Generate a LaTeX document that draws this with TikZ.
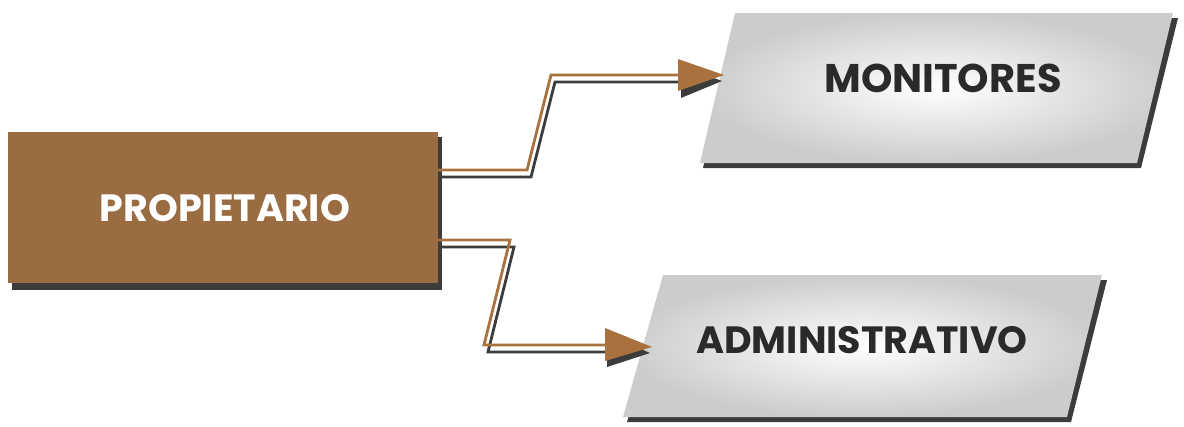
\documentclass[tikz,border=0pt]{standalone}
\usepackage{fontspec}
\setmainfont{Poppins}
\usetikzlibrary{calc}
\definecolor{brownbox}{HTML}{9A6C42}
\definecolor{brownline}{HTML}{A8713E}
\definecolor{shadowgray}{HTML}{3C3C3C}
\definecolor{textdark}{HTML}{2A2A2A}
\tikzset{
  boxshadow/.style={fill=shadowgray},
  graybox/.style={inner color=white, outer color=black!20},
  connline/.style={draw=brownline, line width=2.8pt, line join=miter},
  connshadow/.style={draw=shadowgray, line width=2.8pt, line join=miter},
  lbl/.style={font=\bfseries\fontsize{40}{40}\selectfont, text=textdark},
}
\begin{document}
\begin{tikzpicture}[x=1pt,y=-1pt]
\useasboundingbox (0,0) rectangle (1184,426);
% PROPIETARIO box
\fill[boxshadow] (12,137) rectangle (442,290);
\fill[brownbox] (8,132) rectangle (438,283);
\node[font=\bfseries\fontsize{38}{38}\selectfont, text=white] (prop) at (225,208) {PROPIETARIO};
\coordinate (pa) at (438,170);
\coordinate (pb) at (438,240);
% MONITORES parallelogram
\fill[boxshadow] (739,18) -- (1178,18) -- (1141,168) -- (703,168) -- cycle;
\shade[graybox] (735,13) -- (1173,13) -- (1137,163) -- (700,163) -- cycle;
\node[lbl] (mon) at (943,78) {MONITORES};
\coordinate (mt) at (724,75);
% ADMINISTRATIVO parallelogram
\fill[boxshadow] (667,280) -- (1107,280) -- (1071,422) -- (627,422) -- cycle;
\shade[graybox] (663,275) -- (1102,275) -- (1067,417) -- (623,417) -- cycle;
\node[lbl, font=\bfseries\fontsize{38}{38}\selectfont] (adm) at (862,340) {ADMINISTRATIVO};
\coordinate (at) at (652,347);
% upper connector
\draw[connshadow] ($(pa)+(4,7)$) -- (531,177) -- (555,82) -- (700,82);
\fill[shadowgray] ($(mt)+(-2,6)$) -- (681,66) -- (681,98) -- cycle;
\draw[connline] (pa) -- (527,170) -- (551,75) -- (690,75);
\fill[brownline] (mt) -- (678,59) -- (678,91) -- cycle;
% lower connector
\draw[connshadow] ($(pb)+(4,7)$) -- (514,247) -- (488,352) -- (620,352);
\fill[shadowgray] ($(at)+(-2,6)$) -- (607,334) -- (607,367) -- cycle;
\draw[connline] (pb) -- (510,240) -- (484,345) -- (615,345);
\fill[brownline] (at) -- (605,328) -- (605,361) -- cycle;
\end{tikzpicture}
\end{document}
